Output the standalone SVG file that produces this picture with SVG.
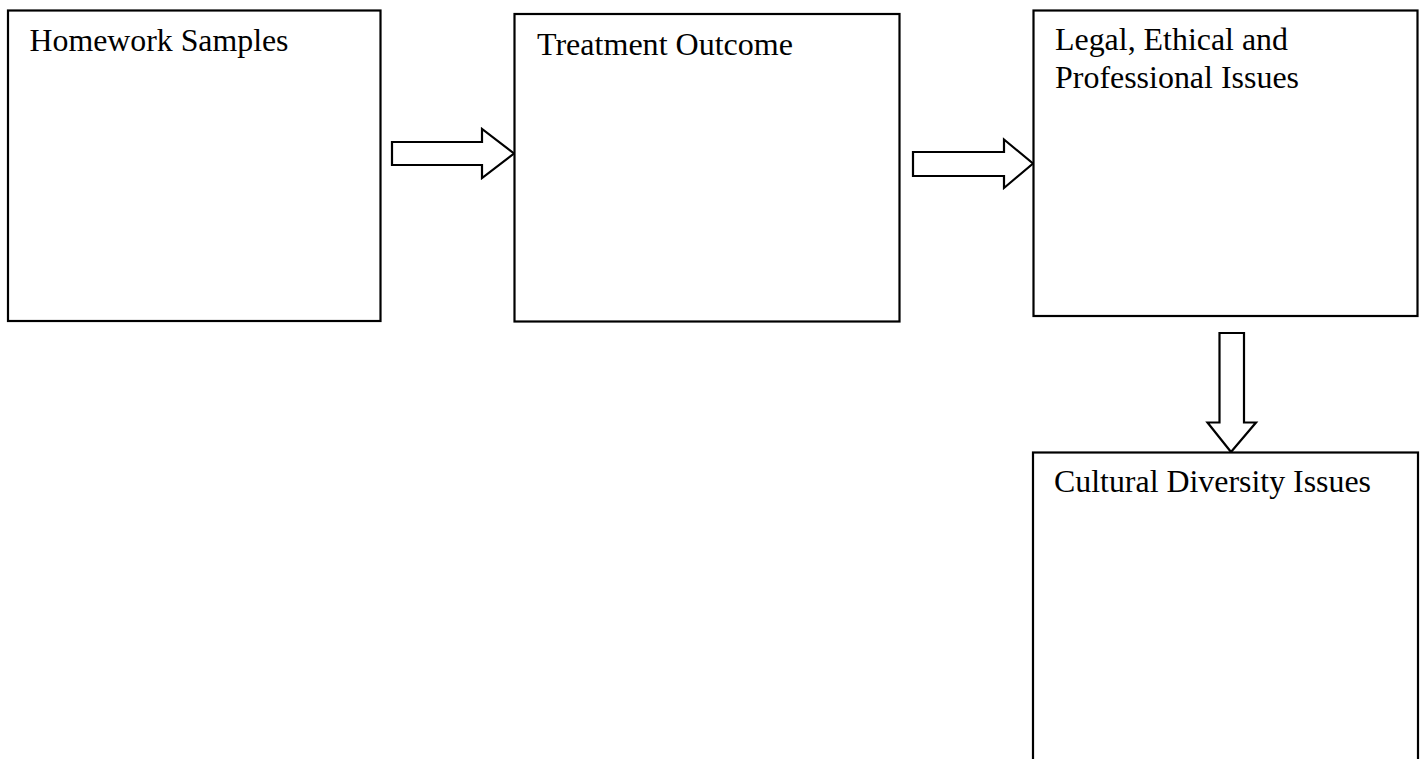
<svg xmlns="http://www.w3.org/2000/svg" width="1427" height="759" viewBox="0 0 1427 759">
<style>
.box{fill:#fff;stroke:#000;stroke-width:2.2}
.arrow{fill:#fff;stroke:#000;stroke-width:2.2;stroke-linejoin:miter}
.lbl{font-family:"Liberation Serif","Times New Roman",serif;font-size:31.5px;fill:#000}
</style>
<rect width="1427" height="759" fill="#fff"/>
<g id="connectors">
<path class="arrow" d="M392,142 L482,142 L482,129 L514,153.5 L482,178 L482,165 L392,165 Z"/>
<path class="arrow" d="M913,152 L1004,152 L1004,139.5 L1033,163.5 L1004,188 L1004,176 L913,176 Z"/>
<path class="arrow" d="M1219.5,333 L1244,333 L1244,422.5 L1256,422.5 L1231,452 L1207.5,422.5 L1219.5,422.5 Z"/>
</g>
<g id="node-homework">
<rect class="box" x="8" y="10.5" width="372.5" height="310.5"/>
<text class="lbl" x="29.5" y="50.5" textLength="259" lengthAdjust="spacingAndGlyphs">Homework Samples</text>
</g>
<g id="node-treatment">
<rect class="box" x="514.5" y="14" width="385" height="307.5"/>
<text class="lbl" x="537" y="55" textLength="256" lengthAdjust="spacingAndGlyphs">Treatment Outcome</text>
</g>
<g id="node-legal">
<rect class="box" x="1033.5" y="10.5" width="384" height="305.5"/>
<text class="lbl" x="1055" y="49.5" textLength="233" lengthAdjust="spacingAndGlyphs">Legal, Ethical and</text>
<text class="lbl" x="1055" y="87.5" textLength="244" lengthAdjust="spacingAndGlyphs">Professional Issues</text>
</g>
<g id="node-cultural">
<rect class="box" x="1033" y="452.5" width="385" height="320"/>
<text class="lbl" x="1054" y="491.5" textLength="317" lengthAdjust="spacingAndGlyphs">Cultural Diversity Issues</text>
</g>
</svg>
